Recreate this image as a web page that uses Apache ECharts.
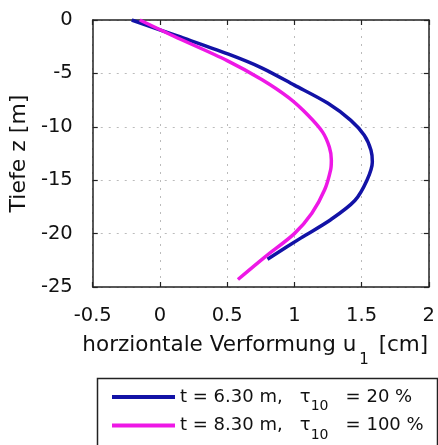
<!DOCTYPE html>
<html>
<head>
<meta charset="utf-8">
<script src="https://cdn.jsdelivr.net/npm/echarts@6/dist/echarts.min.js"></script>
<style>
  html, body { margin: 0; padding: 0; background: #fff; }
  #chart { width: 438px; height: 445px; }
</style>
</head>
<body>
<div id="chart"></div>
<script>
// depth z [m] and horizontal displacement u1 [cm]
var depthBlue = [0, -1.5, -3.2, -4.5, -6.1, -7.8, -9.4, -10.8, -12.2, -13.3, -15.0, -16.9, -18.7, -20.4, -22.4];
var uBlue = [-0.21, 0.13, 0.51, 0.76, 1.0, 1.25, 1.42, 1.52, 1.57, 1.58, 1.54, 1.45, 1.27, 1.05, 0.8];

var depthMagenta = [0, -1.5, -3.8, -5.6, -7.3, -8.9, -10.5, -11.9, -13.1, -14.0, -15.9, -18.1, -20.0, -22.2, -24.3];
var uMagenta = [-0.15, 0.1, 0.5, 0.76, 0.96, 1.1, 1.21, 1.26, 1.275, 1.27, 1.225, 1.13, 1.0, 0.78, 0.58];

var seriesNames = ['blue', 'magenta'];
var legendLabels = {
	blue: '{n|t = 6.30 m,   τ}{s|10}{n|   = 20 %}',
	magenta: '{n|t = 8.30 m,   τ}{s|10}{n|   = 100 %}'
};

var xTicks = { min: -0.5, max: 2, interval: 0.5 };
var yTicks = { min: -25, max: 0, interval: 5 };

var FONT = 'DejaVu Sans';

function pairs(xs, ys) {
	var out = [];
	for (var i = 0; i < xs.length; i++) out.push([xs[i], ys[i]]);
	return out;
}

// top / right copies of the axes, only for the closed box and inner ticks
function frameAxis(kind, pos) {
	var lim = kind === 'x' ? xTicks : yTicks;
	return {
		type: 'value', position: pos,
		min: lim.min, max: lim.max, interval: lim.interval,
		axisLine: { show: true, onZero: false, lineStyle: { color: '#222', width: 1.5 } },
		axisTick: { show: true, inside: true, length: 5, lineStyle: { color: '#222', width: 1.2 } },
		axisLabel: { show: false },
		splitLine: { show: false }
	};
}

var myChart = echarts.init(document.getElementById('chart'), null, { renderer: 'canvas' });

var option = {
	animation: false,
	backgroundColor: '#fff',
	grid: { left: 92, right: 6, top: 20, bottom: 158, containLabel: false },
	graphic: [
		{
			type: 'rect', left: 95, top: 376, silent: true,
			shape: { width: 340, height: 90 },
			style: { fill: 'none', stroke: '#222', lineWidth: 1.5 }
		}
	],
	legend: {
		data: seriesNames,
		orient: 'vertical',
		left: 112,
		top: 388,
		padding: 0,
		itemGap: 3,
		itemWidth: 63,
		itemHeight: 4,
		icon: 'rect',
		formatter: function (name) { return legendLabels[name]; },
		textStyle: {
			fontFamily: FONT,
			color: '#111',
			rich: {
				n: { fontSize: 18, fontFamily: FONT, color: '#111' },
				s: { fontSize: 14, fontFamily: FONT, color: '#111', padding: [19, 0, 0, 0] }
			}
		}
	},
	xAxis: [
		{
			type: 'value', position: 'bottom',
			min: xTicks.min, max: xTicks.max, interval: xTicks.interval,
			name: '{n|horziontale Verformung u}{s|1}{n| [cm]}',
			nameLocation: 'middle',
			nameGap: 36,
			nameTextStyle: {
				padding: [0, 11, 0, 0],
				rich: {
					n: { fontSize: 21.5, fontFamily: FONT, color: '#111' },
					s: { fontSize: 15, fontFamily: FONT, color: '#111', padding: [30, 3, 0, 3] }
				}
			},
			axisLine: { show: true, onZero: false, lineStyle: { color: '#222', width: 1.5 } },
			axisTick: { show: true, inside: true, length: 5, lineStyle: { color: '#222', width: 1.2 } },
			axisLabel: {
				margin: 19, fontSize: 19.5, fontFamily: FONT, color: '#111',
				formatter: function (v) { return String(v); }
			},
			splitLine: { show: true, lineStyle: { color: '#bbb', type: [2, 6], width: 1 } }
		},
		frameAxis('x', 'top')
	],
	yAxis: [
		{
			type: 'value', position: 'left',
			min: yTicks.min, max: yTicks.max, interval: yTicks.interval,
			name: 'Tiefe z [m]',
			nameLocation: 'middle',
			nameGap: 50,
			nameTextStyle: { fontSize: 22, fontFamily: FONT, color: '#111' },
			axisLine: { show: true, onZero: false, lineStyle: { color: '#222', width: 1.5 } },
			axisTick: { show: true, inside: true, length: 5, lineStyle: { color: '#222', width: 1.2 } },
			axisLabel: { margin: 20, fontSize: 19.5, fontFamily: FONT, color: '#111' },
			splitLine: { show: true, lineStyle: { color: '#bbb', type: [2, 6], width: 1 } }
		},
		frameAxis('y', 'right')
	],
	series: [
		{
			name: 'blue', type: 'line', smooth: 0.3, showSymbol: false,
			lineStyle: { color: '#1212a6', width: 3.5 },
			itemStyle: { color: '#1212a6' },
			data: pairs(uBlue, depthBlue)
		},
		{
			name: 'magenta', type: 'line', smooth: 0.3, showSymbol: false,
			lineStyle: { color: '#ee18e6', width: 3.5 },
			itemStyle: { color: '#ee18e6' },
			data: pairs(uMagenta, depthMagenta)
		}
	]
};

myChart.setOption(option);
</script>
</body>
</html>
